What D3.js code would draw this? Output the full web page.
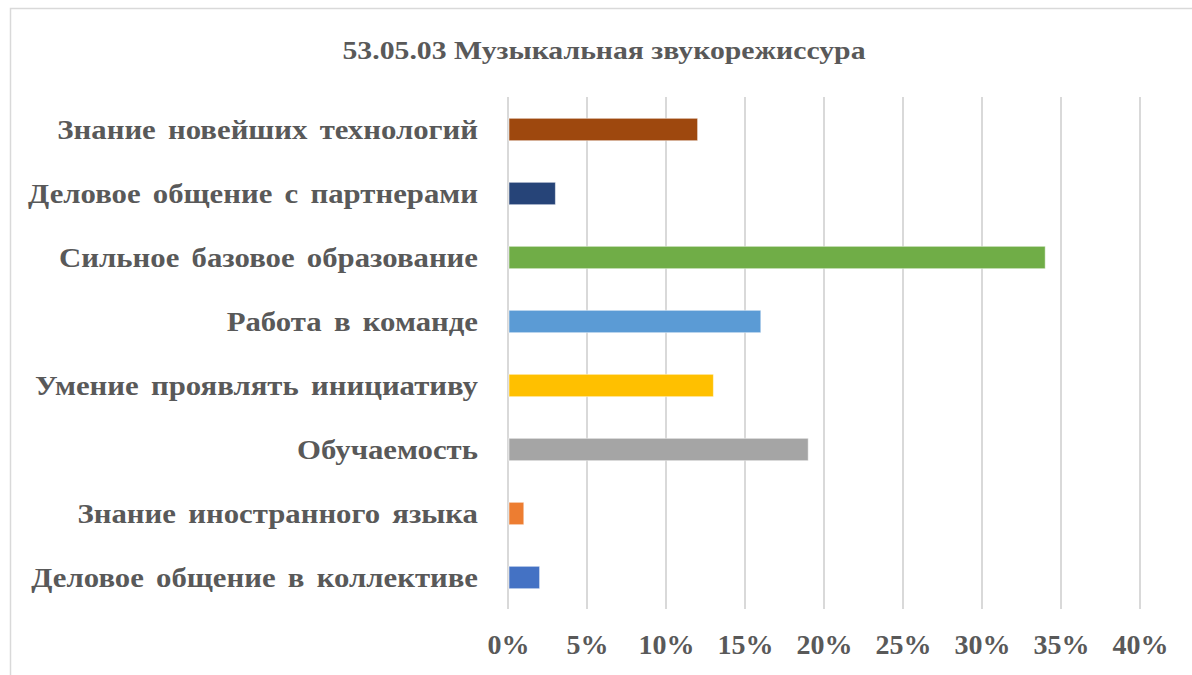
<!DOCTYPE html>
<html><head><meta charset="utf-8">
<script src="https://cdn.jsdelivr.net/npm/d3@7"></script>
<style>html,body{margin:0;padding:0;background:#fff;}svg{display:block;}</style>
</head><body>
<svg id="chart" width="1192" height="675"></svg>
<script>
const title = "53.05.03 Музыкальная звукорежиссура";
const categories = [
  "Знание новейших технологий",
  "Деловое общение с партнерами",
  "Сильное базовое образование",
  "Работа в команде",
  "Умение проявлять инициативу",
  "Обучаемость",
  "Знание иностранного языка",
  "Деловое общение в коллективе"
];
const values = [12, 3, 34, 16, 13, 19, 1, 2];
const colors = ["#9e480e", "#264478", "#70ad47", "#5b9bd5", "#ffc000", "#a5a5a5", "#ed7d31", "#4472c4"];
const ticks = [0, 5, 10, 15, 20, 25, 30, 35, 40];
const tickLabels = ["0%", "5%", "10%", "15%", "20%", "25%", "30%", "35%", "40%"];

const svg = d3.select("#chart");
const font = "'Liberation Serif','Times New Roman',serif";
const textColor = "#595959";

// chart frame
svg.append("path").attr("d", "M10.5,680 L10.5,8.5 L1200,8.5")
  .attr("fill", "none").attr("stroke", "#d9d9d9").attr("stroke-width", 1.5);

const x = d3.scaleLinear().domain([0, 40]).range([508, 1140]);
const y = d3.scaleBand().domain(categories).range([97.5, 609.5]).paddingInner(0.65).paddingOuter(0.325);

// gridlines
svg.append("g").selectAll("line").data(ticks).join("line")
  .attr("x1", d => x(d)).attr("x2", d => x(d))
  .attr("y1", 97).attr("y2", 609)
  .attr("stroke", "#d9d9d9").attr("stroke-width", 2);

// bars
svg.append("g").selectAll("rect").data(categories).join("rect")
  .attr("x", x(0) + 1)
  .attr("y", d => y(d))
  .attr("width", (d, i) => x(values[i]) - x(0) - 1)
  .attr("height", y.bandwidth())
  .attr("fill", (d, i) => colors[i])
  .attr("stroke", "#ffffff").attr("stroke-opacity", 0.5).attr("stroke-width", 1);

// x axis labels
const xAxis = d3.axisBottom(x).tickValues(ticks).tickFormat((d, i) => tickLabels[i]).tickSize(0).tickPadding(0);
const gx = svg.append("g").attr("transform", "translate(0,634)").call(xAxis);
gx.select(".domain").remove();
gx.selectAll("text").attr("font-family", font).attr("font-weight", "bold")
  .attr("font-size", 28).attr("fill", textColor).attr("dy", "0.71em");

// y axis labels (slightly widened like the original)
const yAxis = d3.axisLeft(y).tickSize(0).tickPadding(0);
const gy = svg.append("g").attr("transform", "translate(478,0) scale(1.14,1)").call(yAxis);
gy.select(".domain").remove();
gy.selectAll("text").attr("font-family", font).attr("font-weight", "bold")
  .attr("font-size", 27).attr("fill", textColor).attr("dy", "0.35em")
  .style("word-spacing", "4px");

// title
svg.append("text").attr("x", 604).attr("y", 59).attr("text-anchor", "middle")
  .attr("font-family", font).attr("font-weight", "bold").attr("font-size", 25)
  .attr("fill", textColor).attr("textLength", 523).attr("lengthAdjust", "spacingAndGlyphs")
  .text(title);
</script>
</body></html>
